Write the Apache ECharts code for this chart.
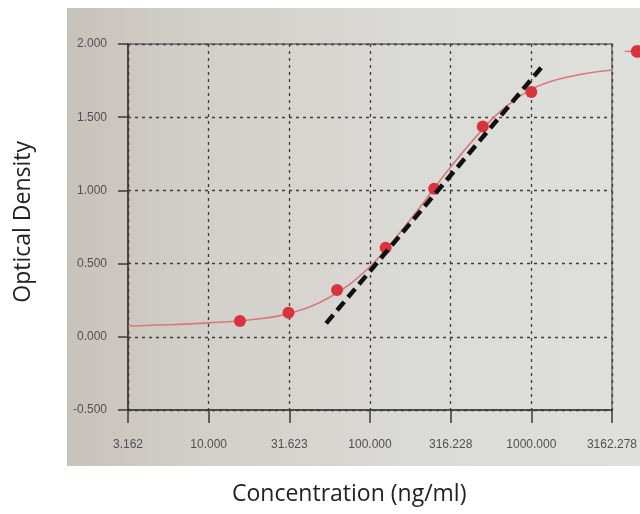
<!DOCTYPE html>
<html>
<head>
<meta charset="utf-8">
<script src="https://cdn.jsdelivr.net/npm/echarts@6/dist/echarts.min.js"></script>
<style>
  html, body { margin: 0; padding: 0; background: #ffffff; }
  #chart { width: 640px; height: 514px; }
</style>
</head>
<body>
<div id="chart"></div>
<script>
// ---- data ----
const seriesName = 'Standard';
const concentrations = [15.625, 31.25, 62.5, 125, 250, 500, 1000];
const opticalDensity = [0.108, 0.165, 0.32, 0.609, 1.012, 1.436, 1.672];

const curveX = [3.162, 5.623, 10, 17.78, 31.62, 56.23, 100, 177.8, 316.2, 562.3, 750, 1000, 1333, 1778, 2371, 3162.3];
const curveY = [0.074, 0.082, 0.095, 0.115, 0.16, 0.27, 0.48, 0.80, 1.16, 1.48, 1.60, 1.69, 1.745, 1.78, 1.805, 1.822];

const tangentX = [53.5, 1183];
const tangentY = [0.092, 1.854];

const yMin = -0.5, yMax = 2.0, yStep = 0.5;
const xMin = 3.16227766, xMax = 3162.27766;
const yTitle = 'Optical Density';
const xTitle = 'Concentration (ng/ml)';

const chart = echarts.init(document.getElementById('chart'), null, { renderer: 'canvas' });

const pairs = (xs, ys) => xs.map((x, i) => [x, ys[i]]);
const gridLine = { show: true, lineStyle: { color: '#3c3c3c', width: 1.3, type: [3, 4] } };
const tickFont = { color: '#505050', fontSize: 12, fontFamily: 'Liberation Sans, Arial, sans-serif' };

chart.setOption({
  animation: false,
  backgroundColor: '#ffffff',
  graphic: {
    elements: [
      {
        type: 'rect', z: -100, silent: true,
        shape: { x: 67, y: 8, width: 573, height: 458 },
        style: {
          fill: new echarts.graphic.LinearGradient(0, 0, 1, 0, [
            { offset: 0, color: '#c7c2ba' },
            { offset: 0.25, color: '#d3d0cb' },
            { offset: 0.6, color: '#dadad6' },
            { offset: 1, color: '#dfdfdc' }
          ])
        }
      },
      {
        type: 'text', left: 12, top: 141, rotation: Math.PI / 2,
        style: { text: yTitle, fill: '#222', fontSize: 23, fontFamily: 'Open Sans, sans-serif' },
        silent: true
      },
      {
        type: 'text', left: 232, top: 483,
        style: { text: xTitle, fill: '#222', fontSize: 23, fontFamily: 'Open Sans, sans-serif' },
        silent: true
      }
    ]
  },
  legend: {
    left: 619, top: 40,
    itemWidth: 25, itemHeight: 16,
    data: [{ name: seriesName, lineStyle: { width: 1.5, color: '#d9777a', opacity: 1 } }],
    textStyle: { color: '#333', fontSize: 12 }
  },
  grid: {
    left: 128, right: 24, top: 44, bottom: 104,
    show: true, borderColor: '#6a6a6a', borderWidth: 1.5, backgroundColor: 'transparent'
  },
  xAxis: {
    type: 'log',
    logBase: Math.sqrt(10),
    min: xMin, max: xMax,
    axisLine: { show: true, onZero: false, lineStyle: { color: '#3a3a3a', width: 1.5 } },
    axisTick: { show: true, length: 13, lineStyle: { color: '#3a3a3a', width: 1.5 } },
    minorTick: { show: false },
    axisLabel: Object.assign({ margin: 29, formatter: v => Number(v).toFixed(3) }, tickFont),
    splitLine: gridLine
  },
  yAxis: {
    type: 'value',
    min: yMin, max: yMax, interval: yStep,
    axisLine: { show: true, lineStyle: { color: '#3a3a3a', width: 1.5 } },
    axisTick: { show: true, length: 10, lineStyle: { color: '#3a3a3a', width: 1.5 } },
    axisLabel: Object.assign({ margin: 21, formatter: v => Number(v).toFixed(3) }, tickFont),
    splitLine: gridLine
  },
  series: [
    {
      name: 'fit', type: 'line', smooth: 0.4, showSymbol: false, z: 2,
      data: pairs(curveX, curveY),
      lineStyle: { color: '#d9777a', width: 1.6 },
      itemStyle: { color: '#d9777a' }
    },
    {
      name: seriesName, type: 'line', z: 3,
      data: pairs(concentrations, opticalDensity),
      symbol: 'circle', symbolSize: 12,
      lineStyle: { width: 0, opacity: 0 },
      itemStyle: { color: '#d9343e' }
    },
    {
      name: 'tangent', type: 'line', showSymbol: false, z: 4,
      data: pairs(tangentX, tangentY),
      lineStyle: { color: '#111111', width: 4.5, type: [11, 6] },
      itemStyle: { color: '#111111' }
    }
  ]
});
</script>
</body>
</html>
